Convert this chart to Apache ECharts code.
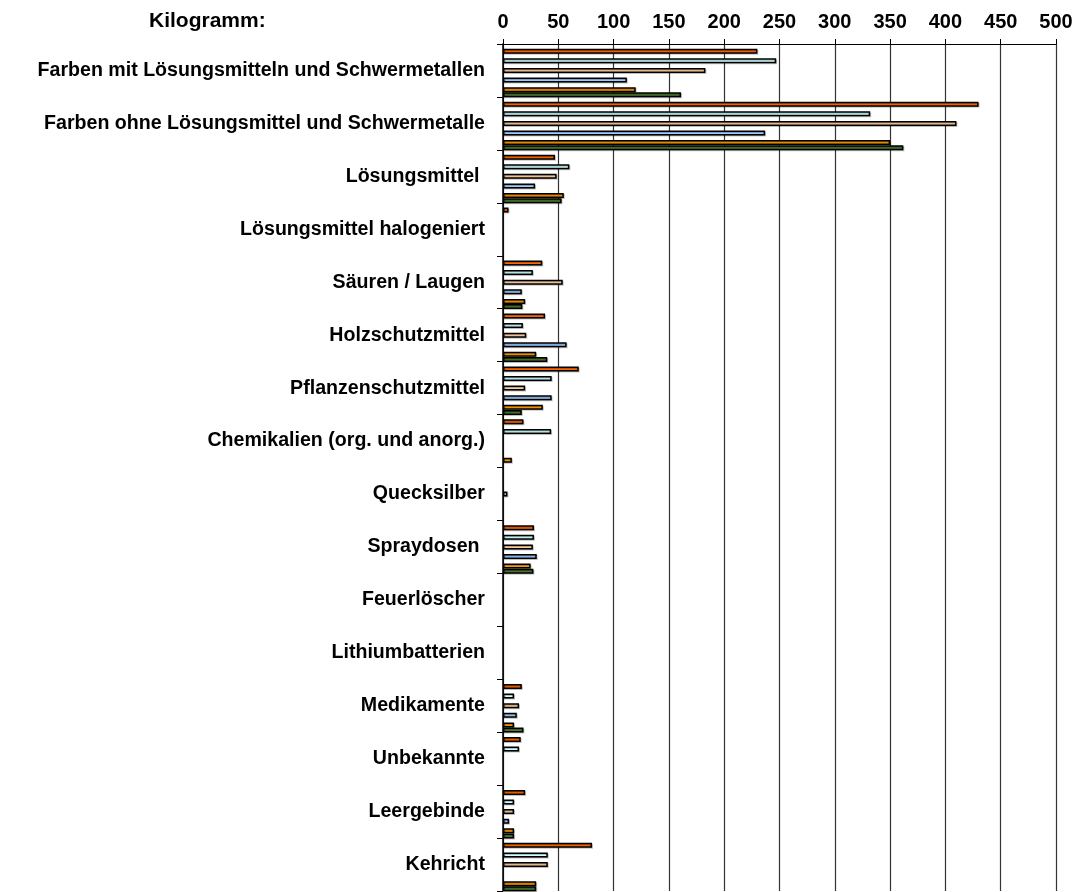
<!DOCTYPE html>
<html>
<head>
<meta charset="utf-8">
<script src="https://cdn.jsdelivr.net/npm/echarts@6/dist/echarts.min.js"></script>
<style>
html,body{margin:0;padding:0;background:#fff;}
#chart{width:1082px;height:892px;}
</style>
</head>
<body>
<div id="chart"></div>
<script>
const categories = [
  "Farben mit Lösungsmitteln und Schwermetallen",
  "Farben ohne Lösungsmittel und Schwermetalle",
  "Lösungsmittel ",
  "Lösungsmittel halogeniert",
  "Säuren / Laugen",
  "Holzschutzmittel",
  "Pflanzenschutzmittel",
  "Chemikalien (org. und anorg.)",
  "Quecksilber",
  "Spraydosen ",
  "Feuerlöscher",
  "Lithiumbatterien",
  "Medikamente",
  "Unbekannte",
  "Leergebinde",
  "Kehricht"
];
const xTicks = [0, 50, 100, 150, 200, 250, 300, 350, 400, 450, 500];
const series1 = [230, 430, 47, 5, 35.5, 38, 68.5, 18.5, 0, 28, 0, 0, 17, 16, 20, 80.5];
const series2 = [247, 332, 60, 0, 27, 18, 44, 43.5, 0, 28, 0, 0, 10, 14.5, 10, 40.5];
const series3 = [183, 410, 48.5, 0, 54, 21, 20, 0, 4, 27, 0, 0, 14.5, 0, 10, 40.5];
const series4 = [112, 237, 29, 0, 17, 57.5, 44, 0, 0, 30.5, 0, 0, 12.5, 0, 5.5, 0];
const series5 = [120, 350, 55, 0, 20, 30, 36, 8, 0, 25, 0, 0, 10, 0, 10, 30];
const series6 = [161, 362, 53, 0, 17.5, 40, 17, 0, 0, 27.5, 0, 0, 18.5, 0, 10, 30];
const seriesNames = ["Reihe 1", "Reihe 2", "Reihe 3", "Reihe 4", "Reihe 5", "Reihe 6"];
const colors = ["#FF6600", "#CCFFFF", "#FFCC99", "#99CCFF", "#FF9900", "#4E7A2C"];

const FONT = "'Liberation Sans', Arial, sans-serif";
const BW = 5;
const barStyle = (c) => ({
  color: c,
  borderColor: "#000",
  borderWidth: 1.5,
  shadowColor: "rgba(0,0,0,0.22)",
  shadowBlur: 0,
  shadowOffsetX: 1,
  shadowOffsetY: 1
});
const toData = (arr) => arr.map(v => v === 0 ? null : v);

const mainSeries = [series1, series2, series3, series4, series5].map((arr, i) => ({
  name: seriesNames[i],
  type: "bar",
  yAxisIndex: 0,
  barWidth: BW,
  barGap: "92%",
  data: toData(arr),
  itemStyle: barStyle(colors[i]),
  silent: true
}));

const chart = echarts.init(document.getElementById("chart"), null, {renderer: "canvas"});
chart.setOption({
  animation: false,
  backgroundColor: "#fff",
  title: {
    text: "Kilogramm:",
    left: 144,
    top: 6,
    textStyle: {fontFamily: FONT, fontSize: 21, fontWeight: "bold", color: "#000"}
  },
  grid: {left: 503, right: 26, top: 44, bottom: 1, containLabel: false},
  xAxis: {
    type: "value",
    position: "top",
    min: 0,
    max: 500,
    interval: 50,
    axisLine: {show: true, lineStyle: {color: "#000", width: 1}},
    axisTick: {show: true, length: 5, inside: false, lineStyle: {color: "#000"}},
    axisLabel: {
      margin: 12,
      fontFamily: FONT, fontSize: 20, fontWeight: "bold", color: "#000",
      formatter: (v) => xTicks.includes(v) ? String(v) : ""
    },
    splitLine: {show: true, lineStyle: {color: "#333", width: 1.2}}
  },
  yAxis: [
    {
      type: "category",
      inverse: true,
      data: categories,
      axisLine: {show: true, lineStyle: {color: "#000", width: 1.5}},
      axisTick: {show: true, length: 6, inside: false, lineStyle: {color: "#000"}},
      axisLabel: {margin: 18, fontFamily: FONT, fontSize: 19.6, fontWeight: "bold", color: "#000"},
      splitLine: {show: false}
    },
    {
      type: "category",
      inverse: true,
      data: categories,
      show: false
    }
  ],
  series: mainSeries.concat([
    {
      name: "_platz",
      type: "bar",
      yAxisIndex: 1,
      barWidth: BW,
      barGap: "872%",
      data: categories.map(() => null),
      itemStyle: {color: "transparent"},
      silent: true
    },
    {
      name: seriesNames[5],
      type: "bar",
      yAxisIndex: 1,
      barWidth: BW,
      barGap: "872%",
      data: toData(series6),
      itemStyle: barStyle(colors[5]),
      silent: true
    }
  ])
});
</script>
</body>
</html>
